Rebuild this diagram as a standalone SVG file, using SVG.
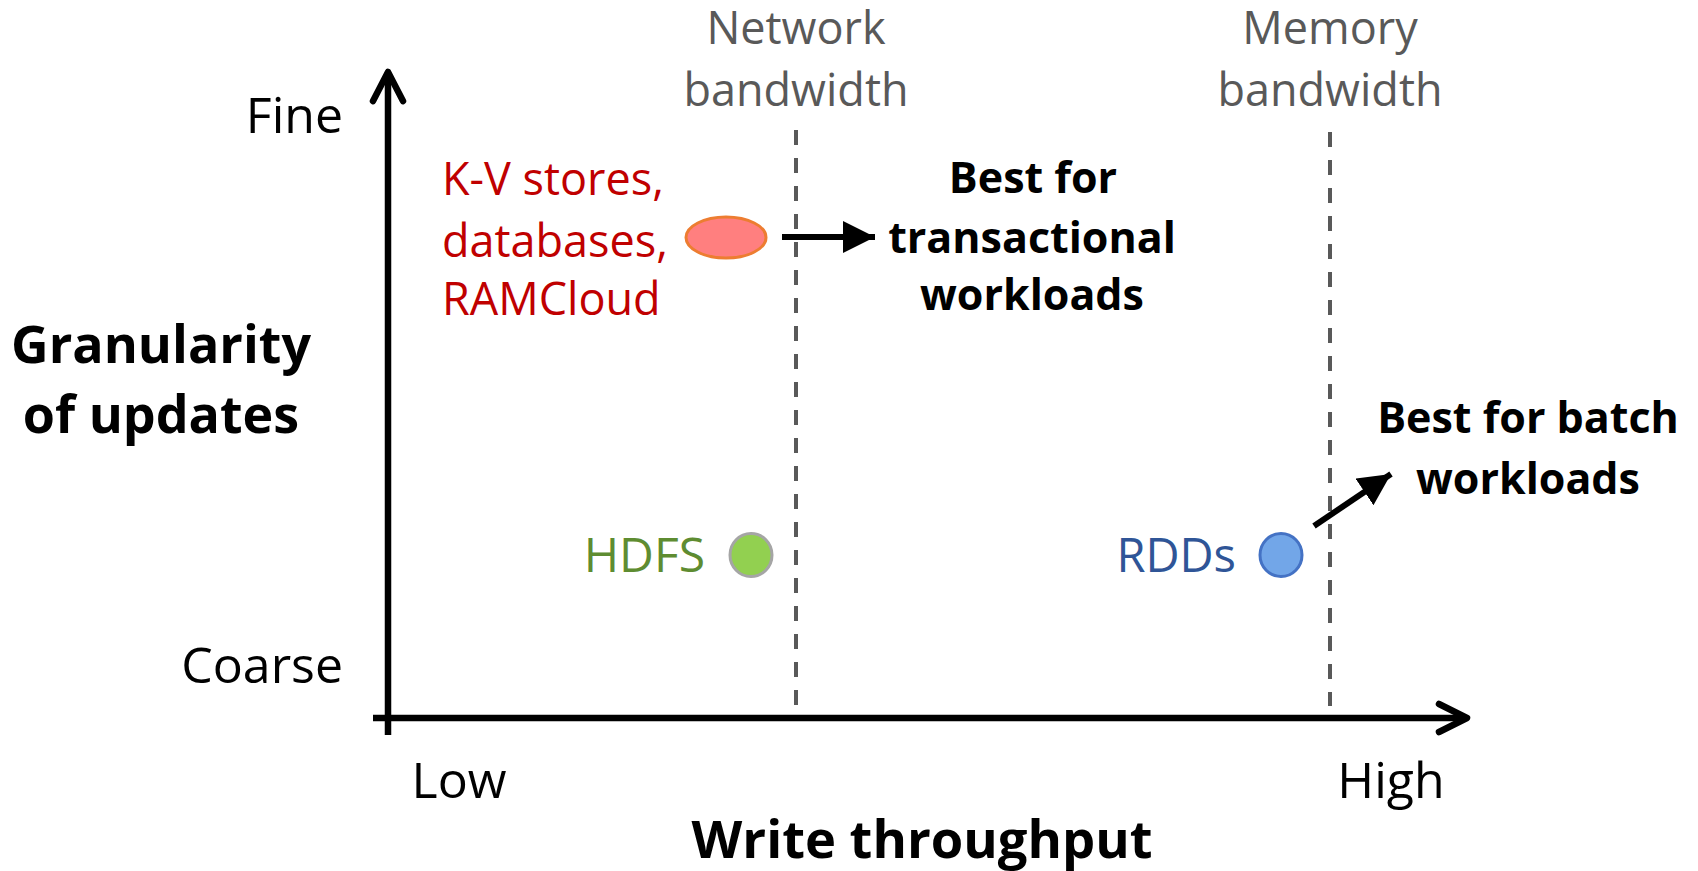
<svg xmlns="http://www.w3.org/2000/svg" width="1698" height="871" viewBox="0 0 1698 871">
<style>
text{font-family:"Open Sans","Noto Sans","Liberation Sans",sans-serif}
.gray{fill:#595959;font-size:45px;text-anchor:middle}
.tick{fill:#000;font-size:50px}
.bold{font-weight:bold;fill:#000}
.axis{stroke:#000;stroke-width:6.5;fill:none;stroke-linecap:round;stroke-linejoin:round}
.dash{stroke:#595959;stroke-width:4;stroke-dasharray:15 13;fill:none}
.conn{stroke:#000;stroke-width:6;fill:none}
</style>
<defs>
<marker id="tri" markerUnits="userSpaceOnUse" markerWidth="34" markerHeight="34" refX="32" refY="16" orient="auto" viewBox="0 0 34 34">
<path d="M0,0 L32,16 L0,32 Z" fill="#000"/>
</marker>
</defs>
<rect width="1698" height="871" fill="#fff"/>

<g id="axes">
<line class="axis" x1="388" y1="735" x2="388" y2="73" style="stroke-linecap:butt"/>
<polyline class="axis" points="373,101 388,72 403,101"/>
<line class="axis" x1="373" y1="718" x2="1466" y2="718" style="stroke-linecap:butt"/>
<polyline class="axis" points="1439,704 1467,718 1439,732"/>
</g>

<g id="limits">
<line class="dash" x1="796" y1="130" x2="796" y2="706"/>
<line class="dash" x1="1330" y1="132" x2="1330" y2="706"/>
</g>

<g id="label-network">
<text class="gray" x="796" y="44">Network</text>
<text class="gray" x="796" y="106">bandwidth</text>
</g>
<g id="label-memory">
<text class="gray" x="1330" y="44">Memory</text>
<text class="gray" x="1330" y="106">bandwidth</text>
</g>

<g id="y-ticks">
<text class="tick" x="343" y="133" text-anchor="end">Fine</text>
<text class="tick" x="343" y="683" text-anchor="end">Coarse</text>
</g>
<g id="x-ticks">
<text class="tick" x="459" y="798" text-anchor="middle">Low</text>
<text class="tick" x="1391" y="798" text-anchor="middle">High</text>
</g>

<g id="y-title">
<text class="bold" x="161" y="363" font-size="52" text-anchor="middle">Granularity</text>
<text class="bold" x="161" y="433" font-size="52" text-anchor="middle">of updates</text>
</g>
<g id="x-title">
<text class="bold" x="922" y="858" font-size="52.5" text-anchor="middle">Write throughput</text>
</g>

<g id="node-kv">
<text x="442" y="195" font-size="45" fill="#C00000">K-V stores,</text>
<text x="442" y="257" font-size="45" fill="#C00000">databases,</text>
<text x="442" y="315" font-size="45" fill="#C00000">RAMCloud</text>
<ellipse cx="726" cy="237.5" rx="40" ry="20.5" fill="#FF7F7F" stroke="#ED7D31" stroke-width="3"/>
</g>

<g id="node-hdfs">
<text x="705" y="572" font-size="48" fill="#5E8C31" text-anchor="end">HDFS</text>
<ellipse cx="751" cy="555" rx="21" ry="21.5" fill="#92D050" stroke="#A5A5A5" stroke-width="3"/>
</g>

<g id="node-rdds">
<text x="1236" y="572" font-size="47" fill="#2F5597" text-anchor="end">RDDs</text>
<ellipse cx="1281" cy="555" rx="21" ry="21.5" fill="#72A6E8" stroke="#4472C4" stroke-width="3"/>
</g>

<g id="label-transactional">
<text class="bold" x="1033" y="193" font-size="43" text-anchor="middle">Best for</text>
<text class="bold" x="1032" y="253" font-size="43" text-anchor="middle">transactional</text>
<text class="bold" x="1032" y="310" font-size="43" text-anchor="middle">workloads</text>
</g>

<g id="label-batch">
<text class="bold" x="1528" y="433" font-size="43" text-anchor="middle">Best for batch</text>
<text class="bold" x="1528" y="494" font-size="43" text-anchor="middle">workloads</text>
</g>

<g id="connectors">
<line class="conn" x1="782" y1="237" x2="875" y2="237" marker-end="url(#tri)"/>
<line class="conn" x1="1314" y1="526" x2="1391" y2="474" marker-end="url(#tri)"/>
</g>
</svg>
